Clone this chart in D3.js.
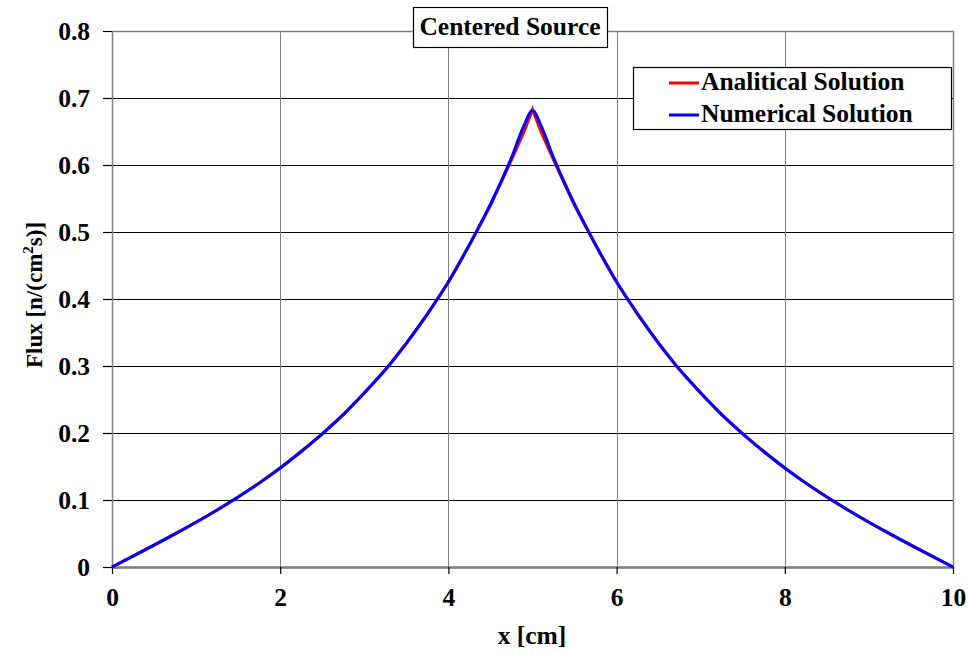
<!DOCTYPE html>
<html><head><meta charset="utf-8">
<script src="https://cdn.jsdelivr.net/npm/d3@7"></script>
<style>
body{margin:0;background:#fff;}
text{font-family:"Liberation Serif","Times New Roman",serif;font-weight:bold;}
</style></head>
<body><svg id="c" width="971" height="653"></svg>
<script>
const xs = [0,0.25,0.5,0.75,1,1.25,1.5,1.75,2,2.25,2.5,2.75,3,3.25,3.5,3.75,4,4.25,4.5,4.75,4.9,5,
  5.1,5.25,5.5,5.75,6,6.25,6.5,6.75,7,7.25,7.5,7.75,8,8.25,8.5,8.75,9,9.25,9.5,9.75,10];
const analytical = [0,0.0162,0.0326,0.0494,0.0668,0.0851,0.1045,0.1252,0.1477,0.1724,0.1988,0.2275,0.2598,0.2943,0.3339,0.3775,0.4253,0.4804,0.5396,0.6075,0.6500,0.6830,
  0.6500,0.6075,0.5396,0.4804,0.4253,0.3775,0.3339,0.2943,0.2598,0.2275,0.1988,0.1724,0.1477,0.1252,0.1045,0.0851,0.0668,0.0494,0.0326,0.0162,0];
const numerical = [0,0.0162,0.0326,0.0494,0.0668,0.0851,0.1045,0.1252,0.1477,0.1724,0.1988,0.2275,0.2598,0.2943,0.3339,0.3775,0.4253,0.4810,0.5415,0.6110,0.6590,0.6820,
  0.6590,0.6110,0.5415,0.4810,0.4253,0.3775,0.3339,0.2943,0.2598,0.2275,0.1988,0.1724,0.1477,0.1252,0.1045,0.0851,0.0668,0.0494,0.0326,0.0162,0];
const xTicks = [0,2,4,6,8,10];
const yTicks = [0,0.1,0.2,0.3,0.4,0.5,0.6,0.7,0.8];
const seriesNames = ["Analitical Solution","Numerical Solution"];
const seriesColors = ["#ff0000","#0000ff"];

const svg = d3.select("#c");
const L=112,R=953,T=31,B=567;
const FS = 25.5;
const x = d3.scaleLinear().domain([0,10]).range([L,R]);
const y = d3.scaleLinear().domain([0,0.8]).range([B,T]);
const px = v => Math.round(v)+0.5;

// gridlines
svg.append("g").selectAll("line").data(yTicks.filter(v=>v>0&&v<0.8)).join("line")
  .attr("x1",L).attr("x2",R).attr("y1",d=>px(y(d))).attr("y2",d=>px(y(d)))
  .attr("stroke","#000").attr("stroke-width",1).attr("shape-rendering","crispEdges");
svg.append("g").selectAll("line").data(xTicks.filter(v=>v>0&&v<10)).join("line")
  .attr("y1",T).attr("y2",B).attr("x1",d=>px(x(d))).attr("x2",d=>px(x(d)))
  .attr("stroke","#808080").attr("stroke-width",1).attr("shape-rendering","crispEdges");
// border
svg.append("rect").attr("x",L+0.5).attr("y",T+0.5).attr("width",R-L).attr("height",B-T)
  .attr("fill","none").attr("stroke","#808080").attr("stroke-width",1.5);
svg.append("line").attr("x1",L).attr("x2",R).attr("y1",B+0.5).attr("y2",B+0.5).attr("stroke","#808080").attr("stroke-width",2.5);

// axes
const ya = svg.append("g").attr("transform",`translate(${L},0)`)
  .call(d3.axisLeft(y).tickValues(yTicks).tickSize(9).tickPadding(13).tickFormat(d=>d===0?"0":d3.format(".1f")(d)));
const xa = svg.append("g").attr("transform",`translate(0,${B})`)
  .call(d3.axisBottom(x).tickValues(xTicks).tickSize(7).tickPadding(14).tickFormat(d3.format("d")));
[ya,xa].forEach(a=>{
  a.select(".domain").remove();
  a.selectAll(".tick line").attr("stroke","#000").attr("stroke-width",1.2);
  a.selectAll("text").attr("font-size",FS).attr("fill","#000")
   .attr("font-family","'Liberation Serif',serif").attr("font-weight","bold");
});

// series
const lineA = d3.line().x((d,i)=>x(xs[i])).y(d=>y(d)).curve(d3.curveLinear);
const lineN = d3.line().x((d,i)=>x(xs[i])).y(d=>y(d)).curve(d3.curveMonotoneX);
svg.append("path").attr("d",lineA(analytical)).attr("fill","none").attr("stroke",seriesColors[0]).attr("stroke-width",3);
svg.append("path").attr("d",lineN(numerical)).attr("fill","none").attr("stroke",seriesColors[1]).attr("stroke-width",3);

// axis titles
svg.append("text").attr("x",532).attr("y",644).attr("text-anchor","middle").attr("font-size",FS).text("x [cm]");
const yt = svg.append("text").attr("transform","translate(42,295) rotate(-90)").attr("text-anchor","middle").attr("font-size",23);
yt.append("tspan").text("Flux [n/(cm");
yt.append("tspan").attr("font-size",15).attr("dy",-9).text("2");
yt.append("tspan").attr("dy",9).text("s)]");

// title box
svg.append("rect").attr("x",413.5).attr("y",7.5).attr("width",194).attr("height",40).attr("fill","#fff").attr("stroke","#000").attr("stroke-width",1.2);
svg.append("text").attr("x",510).attr("y",35).attr("text-anchor","middle").attr("font-size",FS).text("Centered Source");

// legend
svg.append("rect").attr("x",633.5).attr("y",67.5).attr("width",318).attr("height",62).attr("fill","#fff").attr("stroke","#000").attr("stroke-width",1.2);
const lg = svg.append("g").selectAll("g").data(seriesNames).join("g")
  .attr("transform",(d,i)=>`translate(0,${83+i*32})`);
lg.append("line").attr("x1",669).attr("x2",699).attr("y1",0).attr("y2",0)
  .attr("stroke",(d,i)=>seriesColors[i]).attr("stroke-width",3);
lg.append("text").attr("x",701).attr("y",7).attr("font-size",FS).text(d=>d);
</script></body></html>
